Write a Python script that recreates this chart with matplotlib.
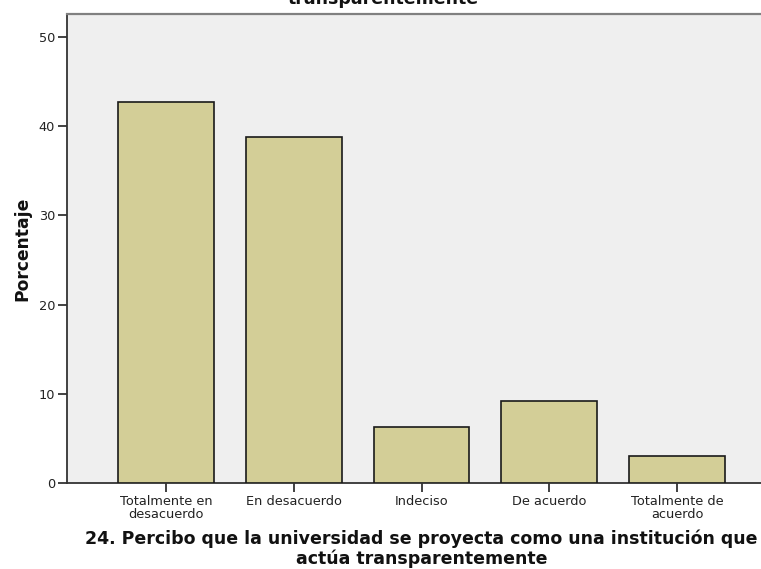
import matplotlib
matplotlib.use("Agg")
import matplotlib.pyplot as plt

categories = ["Totalmente en\ndesacuerdo", "En desacuerdo", "Indeciso", "De acuerdo", "Totalmente de\nacuerdo"]
percentages = [42.7, 38.8, 6.3, 9.2, 3.0]
y_ticks = [0, 10, 20, 30, 40, 50]
title = "24. Percibo que la universidad se proyecta como una institución que actúa\ntransparentemente"
x_label = "24. Percibo que la universidad se proyecta como una institución que\nactúa transparentemente"
y_label = "Porcentaje"

plt.rcParams['font.family'] = ['DejaVu Sans']

W, H = 761, 569
fig = plt.figure(figsize=(W / 100, H / 100), dpi=100)
left, right, top, bottom = 67, 776, 14, 483
ax = fig.add_axes([left / W, (H - bottom) / H, (right - left) / W, (bottom - top) / H])
ax.set_facecolor("#efefef")

x = list(range(len(categories)))
ax.bar(x, percentages, width=0.75, color="#d3ce97", edgecolor="#1a1a1a", linewidth=1.2, zorder=3)

ax.set_xlim(-0.773, len(categories) - 1 + 0.773)
ax.set_ylim(0, 52.55)
ax.set_yticks(y_ticks)
ax.set_xticks(x)
ax.set_xticklabels(categories, fontsize=9.3, color="#222222", linespacing=1.0)
ax.set_yticklabels([str(v) for v in y_ticks], fontsize=9.3, color="#222222")
ax.tick_params(axis="both", direction="out", length=6.5, width=1.3, color="#333333", pad=2)

for side in ["left", "bottom"]:
    ax.spines[side].set_color("#333333")
    ax.spines[side].set_linewidth(1.3)
ax.spines["top"].set_color("#808080")
ax.spines["top"].set_linewidth(1.6)
ax.spines["right"].set_visible(False)

fig.text(22 / W, 1 - 248.5 / H, y_label, rotation=90, ha="center", va="center",
         fontsize=12.3, fontweight="bold", color="#111111")
fig.text(421.5 / W, 0.5 / H, x_label, ha="center", va="bottom", fontsize=12.5,
         fontweight="bold", color="#111111", linespacing=1.12, multialignment="center")
fig.text(383.5 / W, 1 - 8 / H, title, ha="center", va="bottom", fontsize=12.5,
         fontweight="bold", color="#111111", linespacing=1.12, multialignment="center")

fig.savefig("out.png", dpi=100)
